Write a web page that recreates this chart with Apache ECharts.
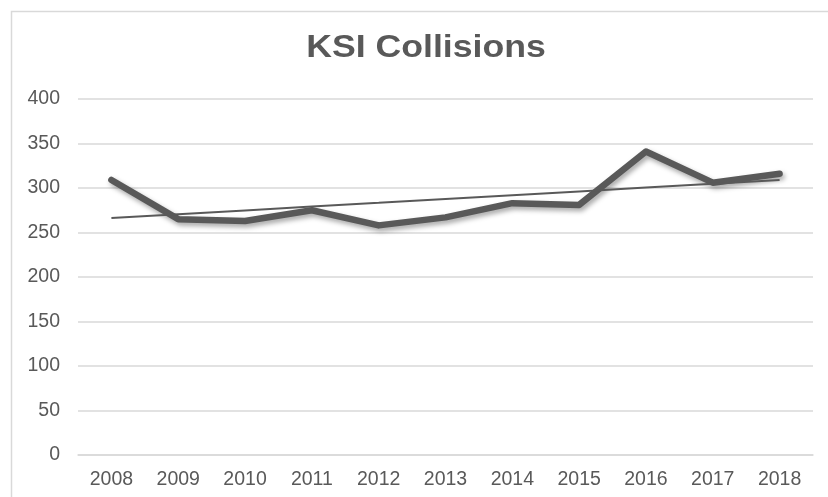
<!DOCTYPE html>
<html>
<head>
<meta charset="utf-8">
<script src="https://cdn.jsdelivr.net/npm/echarts@6/dist/echarts.min.js"></script>
<style>
  html, body { margin: 0; padding: 0; background: #ffffff; }
  #chart { width: 828px; height: 497px; }
</style>
</head>
<body>
<div id="chart"></div>
<script>
// Killed or seriously injured collisions per year
const years = ['2008', '2009', '2010', '2011', '2012', '2013', '2014', '2015', '2016', '2017', '2018'];
const collisions = [309, 265, 263, 275, 258, 267, 283, 281, 341, 306, 316];
const yTicks = { min: 0, max: 400, interval: 50 };
const chartTitle = 'KSI Collisions';

// Least-squares linear trend over the yearly counts
function linearTrend(values) {
  const n = values.length;
  let sx = 0, sy = 0, sxy = 0, sxx = 0;
  values.forEach((v, i) => { sx += i; sy += v; sxy += i * v; sxx += i * i; });
  const slope = (n * sxy - sx * sy) / (n * sxx - sx * sx);
  const intercept = (sy - slope * sx) / n;
  return values.map((_, i) => +(intercept + slope * i).toFixed(2));
}
const trend = linearTrend(collisions);

const textColor = '#595959';
const gridColor = '#d9d9d9';
const font = '"Liberation Sans", Arial, sans-serif';

const chart = echarts.init(document.getElementById('chart'), null, { renderer: 'canvas' });
chart.setOption({
  animation: false,
  backgroundColor: '#ffffff',
  graphic: [
    {
      // chart area frame
      type: 'rect',
      shape: { x: 11.5, y: 11.5, width: 830, height: 500 },
      style: { fill: 'none', stroke: gridColor, lineWidth: 1.5 },
      silent: true,
      z: -1
    },
    {
      // heading, drawn slightly wide
      type: 'text',
      x: 426,
      y: 48,
      scaleX: 1.15,
      silent: true,
      style: {
        text: chartTitle,
        fill: textColor,
        fontFamily: font,
        fontWeight: 'bold',
        fontSize: 31,
        align: 'center',
        verticalAlign: 'middle'
      }
    }
  ],
  grid: { left: 78, right: 15, top: 99, bottom: 42, containLabel: false },
  xAxis: {
    type: 'category',
    data: years,
    boundaryGap: true,
    axisLine: { show: true, lineStyle: { color: gridColor, width: 1.5 } },
    axisTick: { show: false },
    axisLabel: { color: textColor, fontFamily: font, fontSize: 19.5, margin: 15 }
  },
  yAxis: {
    type: 'value',
    min: yTicks.min,
    max: yTicks.max,
    interval: yTicks.interval,
    axisLine: { show: false },
    axisTick: { show: false },
    splitLine: { lineStyle: { color: gridColor, width: 1.5 } },
    axisLabel: { color: textColor, fontFamily: font, fontSize: 19.5, margin: 18 }
  },
  series: [
    {
      name: 'KSI Collisions',
      type: 'line',
      data: collisions,
      symbol: 'none',
      lineStyle: {
        color: textColor,
        width: 6.5,
        cap: 'round',
        join: 'round',
        shadowColor: 'rgba(0,0,0,0.35)',
        shadowBlur: 5,
        shadowOffsetX: 2,
        shadowOffsetY: 3
      },
      z: 2
    },
    {
      name: 'Linear trend',
      type: 'line',
      data: trend,
      symbol: 'none',
      lineStyle: { color: textColor, width: 2 },
      z: 3
    }
  ]
});
</script>
</body>
</html>
